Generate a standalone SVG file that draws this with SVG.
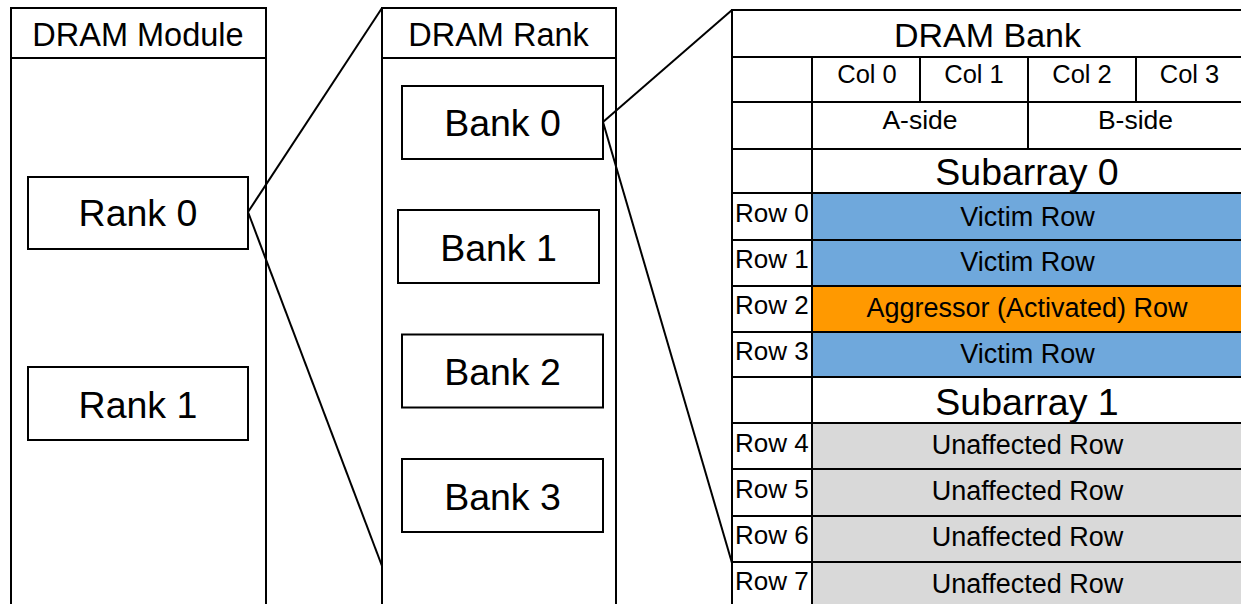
<svg xmlns="http://www.w3.org/2000/svg" width="1241" height="604" viewBox="0 0 1241 604">
  <style>
    .box { fill: #ffffff; stroke: #000000; stroke-width: 2; }
    .ln { stroke: #000000; stroke-width: 2; fill: none; }
    .victim { fill: #6fa8dc; stroke: #000000; stroke-width: 2; }
    .aggr { fill: #ff9900; stroke: #000000; stroke-width: 2; }
    .unaff { fill: #d9d9d9; stroke: #000000; stroke-width: 2; }
    text { font-family: "Liberation Sans", Arial, sans-serif; fill: #000000; text-anchor: middle; }
    .title { font-size: 32.5px; }
    .big { font-size: 37.5px; }
    .col { font-size: 25.5px; }
    .cell { font-size: 27px; }
    .rowlbl { font-size: 26px; text-anchor: start; }
  </style>
  <rect width="1241" height="604" fill="#ffffff"/>

  <!-- DRAM module column -->
  <g id="module">
    <rect class="box" x="11" y="8" width="255" height="610"/>
    <line class="ln" x1="11" y1="58" x2="266" y2="58"/>
    <text class="title" x="138" y="45.5">DRAM Module</text>
  </g>
  <g id="rank0">
    <rect class="box" x="28" y="177" width="220" height="72"/>
    <text class="big" x="138" y="226">Rank 0</text>
  </g>
  <g id="rank1">
    <rect class="box" x="28" y="367" width="220" height="73"/>
    <text class="big" x="138" y="417.5">Rank 1</text>
  </g>

  <!-- DRAM rank column -->
  <g id="rank">
    <rect class="box" x="382" y="8" width="234" height="610"/>
    <line class="ln" x1="382" y1="58" x2="616" y2="58"/>
    <text class="title" x="498.5" y="45.5">DRAM Rank</text>
  </g>
  <g id="bank0">
    <rect class="box" x="402" y="86" width="201" height="73"/>
    <text class="big" x="502.5" y="136">Bank 0</text>
  </g>
  <g id="bank1">
    <rect class="box" x="398" y="210" width="201" height="73"/>
    <text class="big" x="498.5" y="261">Bank 1</text>
  </g>
  <g id="bank2">
    <rect class="box" x="402" y="334.5" width="201" height="73"/>
    <text class="big" x="502.5" y="384.5">Bank 2</text>
  </g>
  <g id="bank3">
    <rect class="box" x="402" y="459" width="201" height="73"/>
    <text class="big" x="502.5" y="509.5">Bank 3</text>
  </g>

  <!-- DRAM bank table -->
  <g id="bank">
    <rect class="box" x="732" y="10" width="520" height="610"/>
    <text class="title" x="987.5" y="46.5" style="font-size:34px">DRAM Bank</text>
    <line class="ln" x1="732" y1="57" x2="1252" y2="57"/>
    <line class="ln" x1="732" y1="102" x2="1252" y2="102"/>
    <line class="ln" x1="732" y1="149" x2="1252" y2="149"/>
    <line class="ln" x1="732" y1="193" x2="1252" y2="193"/>
    <line class="ln" x1="812" y1="57" x2="812" y2="620"/>
    <line class="ln" x1="920" y1="57" x2="920" y2="102"/>
    <line class="ln" x1="1028" y1="57" x2="1028" y2="149"/>
    <line class="ln" x1="1136" y1="57" x2="1136" y2="102"/>
    <text class="col" x="867" y="82.5">Col 0</text>
    <text class="col" x="974" y="82.5">Col 1</text>
    <text class="col" x="1082" y="82.5">Col 2</text>
    <text class="col" x="1189.5" y="82.5">Col 3</text>
    <text class="cell" x="920" y="128.5" style="font-size:26.5px">A-side</text>
    <text class="cell" x="1135.5" y="128.5" style="font-size:26.5px">B-side</text>
    <text class="big" x="1027" y="185">Subarray 0</text>
  </g>

  <g id="row0">
    <rect class="victim" x="812" y="193" width="440" height="47"/>
    <line class="ln" x1="732" y1="240" x2="812" y2="240"/>
    <text class="rowlbl" x="735" y="222">Row 0</text>
    <text class="cell" x="1027.5" y="226">Victim Row</text>
  </g>
  <g id="row1">
    <rect class="victim" x="812" y="240" width="440" height="46"/>
    <line class="ln" x1="732" y1="286" x2="812" y2="286"/>
    <text class="rowlbl" x="735" y="267.5">Row 1</text>
    <text class="cell" x="1027.5" y="270.5">Victim Row</text>
  </g>
  <g id="row2">
    <rect class="aggr" x="812" y="286" width="440" height="46"/>
    <line class="ln" x1="732" y1="332" x2="812" y2="332"/>
    <text class="rowlbl" x="735" y="313.5">Row 2</text>
    <text class="cell" x="1027" y="317">Aggressor (Activated) Row</text>
  </g>
  <g id="row3">
    <rect class="victim" x="812" y="332" width="440" height="45"/>
    <line class="ln" x1="732" y1="377" x2="1252" y2="377"/>
    <text class="rowlbl" x="735" y="359.5">Row 3</text>
    <text class="cell" x="1027.5" y="363">Victim Row</text>
  </g>
  <g id="subarray1">
    <line class="ln" x1="732" y1="423" x2="1252" y2="423"/>
    <text class="big" x="1027" y="415">Subarray 1</text>
  </g>
  <g id="row4">
    <rect class="unaff" x="812" y="423" width="440" height="46"/>
    <line class="ln" x1="732" y1="469" x2="812" y2="469"/>
    <text class="rowlbl" x="735" y="451.5">Row 4</text>
    <text class="cell" x="1027.5" y="453.5">Unaffected Row</text>
  </g>
  <g id="row5">
    <rect class="unaff" x="812" y="469" width="440" height="47"/>
    <line class="ln" x1="732" y1="516" x2="812" y2="516"/>
    <text class="rowlbl" x="735" y="497.5">Row 5</text>
    <text class="cell" x="1027.5" y="500">Unaffected Row</text>
  </g>
  <g id="row6">
    <rect class="unaff" x="812" y="516" width="440" height="46"/>
    <line class="ln" x1="732" y1="562" x2="812" y2="562"/>
    <text class="rowlbl" x="735" y="543.5">Row 6</text>
    <text class="cell" x="1027.5" y="546">Unaffected Row</text>
  </g>
  <g id="row7">
    <rect class="unaff" x="812" y="562" width="440" height="60"/>
    <text class="rowlbl" x="735" y="589.5">Row 7</text>
    <text class="cell" x="1027.5" y="592.5">Unaffected Row</text>
  </g>

  <!-- zoom-out connectors -->
  <g id="connectors">
    <line class="ln" x1="248" y1="212" x2="382" y2="8"/>
    <line class="ln" x1="248" y1="212" x2="382" y2="566"/>
    <line class="ln" x1="603" y1="122" x2="732" y2="10"/>
    <line class="ln" x1="603" y1="122" x2="732" y2="563"/>
  </g>
</svg>
